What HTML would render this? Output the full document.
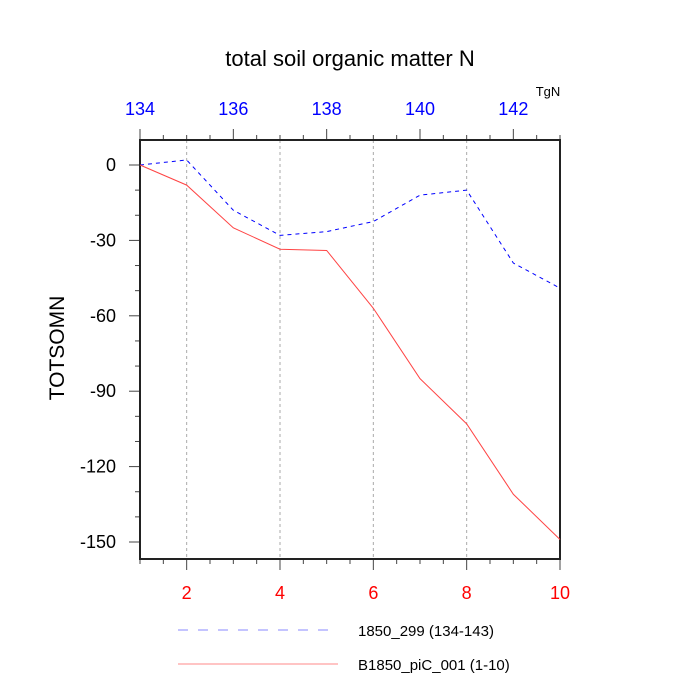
<!DOCTYPE html>
<html><head><meta charset="utf-8"><style>body{margin:0;background:#fff}svg{display:block;font-family:"Liberation Sans",sans-serif}</style></head>
<body>
<svg id="c" width="700" height="700"></svg>
<script>
const xs=[1,2,3,4,5,6,7,8,9,10];
const redVals=[0,-8,-25,-33.5,-34,-57,-85,-103,-131,-149];
const blueVals=[0,2,-18,-28,-26.5,-22.5,-12,-10,-39,-49];
const bottomTicks=[2,4,6,8,10];
const topTicks=[134,136,138,140,142];
const yTicks=[0,-30,-60,-90,-120,-150];
const L=140,R=560,T=140,B=559;
const X=v=>L+(v-1)*(R-L)/9;
const XT=v=>X(v-133);
const Y=v=>165+(-v)*(542-165)/150;
const s=document.getElementById('c');NS='http://www.w3.org/2000/svg';
function el(t,a,p){const e=document.createElementNS(NS,t);for(const k in a)e.setAttribute(k,a[k]);(p||s).appendChild(e);return e;}
function tx(x,y,str,a,p){const e=el('text',Object.assign({x:x,y:y},a),p);e.textContent=str;return e;}
let g;
g=el('g',{});
[2,4,6,8].forEach(v=>el('line',{x1:X(v),x2:X(v),y1:T,y2:B,stroke:'#aaa','stroke-dasharray':'3,3','stroke-width':1},g));
g=el('g',{stroke:'#444','stroke-width':1});
for(let v=1;v<=10.01;v+=0.5){const maj=bottomTicks.includes(v);el('line',{x1:X(v),x2:X(v),y1:B,y2:B+(maj?11:5)},g);}
for(let v=134;v<=143.01;v+=0.5){const maj=topTicks.includes(v);el('line',{x1:XT(v),x2:XT(v),y1:T,y2:T-(maj?11:5)},g);}
for(let v=0;v>=-150;v-=10){const maj=v%30==0;el('line',{x1:L,x2:L-(maj?11:5),y1:Y(v),y2:Y(v)},g);}
const f=el('rect',{x:L,y:T,width:R-L,height:B-T,fill:'none',stroke:'#222','stroke-width':2});

bottomTicks.forEach(v=>{const t=tx(X(v),599,v,{'text-anchor':'middle','font-size':18,fill:'#f00'});});
topTicks.forEach(v=>{const t=tx(XT(v),115,v,{'text-anchor':'middle','font-size':18,fill:'#00f'});});
yTicks.forEach(v=>{const t=tx(116,Y(v)+6,v,{'text-anchor':'end','font-size':18,fill:'#000'});});
let t=tx(350,66,'total soil organic matter N',{'text-anchor':'middle','font-size':22});
t=tx(548,96,'TgN',{'text-anchor':'middle','font-size':13});
t=tx(0,0,'TOTSOMN',{'text-anchor':'middle','font-size':21,transform:'translate(64,348) rotate(-90)'});
let p=el('polyline',{points:xs.map((x,i)=>X(x)+','+Y(blueVals[i])).join(' '),fill:'none',stroke:'#00f','stroke-width':1,'stroke-dasharray':'4,4'});

p=el('polyline',{points:xs.map((x,i)=>X(x)+','+Y(redVals[i])).join(' '),fill:'none',stroke:'#f44','stroke-width':1});

g=el('g',{});
el('line',{x1:178,x2:336,y1:630,y2:630,stroke:'#88f','stroke-dasharray':'10,10'},g);
t=tx(358,636,'1850_299 (134-143)',{'font-size':15},g);
el('line',{x1:178,x2:338,y1:664,y2:664,stroke:'#f88'},g);
t=tx(358,670,'B1850_piC_001 (1-10)',{'font-size':15},g);
</script>
</body></html>
